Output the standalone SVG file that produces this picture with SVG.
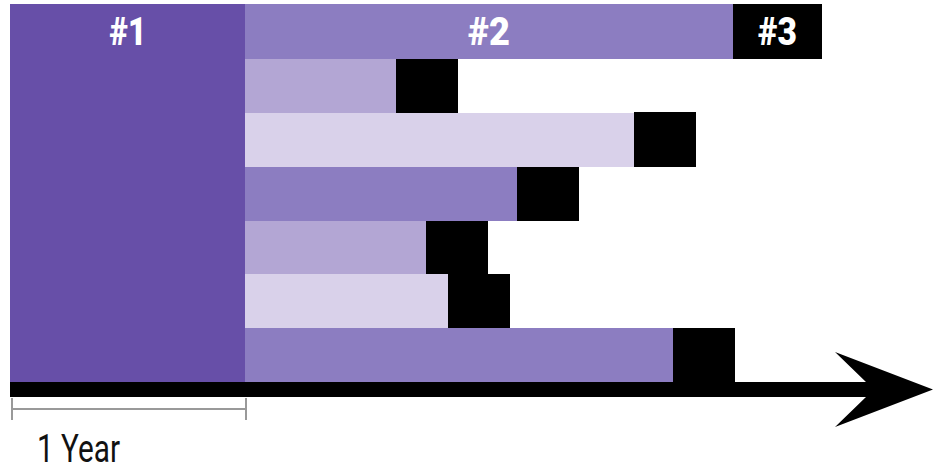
<svg xmlns="http://www.w3.org/2000/svg" width="933" height="472" viewBox="0 0 933 472">
<style>
.p1{fill:#674fa8}
.p2{fill:#8c7dc1}
.p3{fill:#b3a6d4}
.p4{fill:#d9d1ea}
.blk{fill:#000}
.lbl{font-family:Roboto,"Liberation Sans",sans-serif;font-weight:900;font-size:38px;fill:#fff;text-anchor:middle}
.cap{font-family:Roboto,"Liberation Sans",sans-serif;font-weight:400;font-size:38px;fill:#111}
.scale{stroke:#999;stroke-width:2;fill:none}
</style>
<rect width="933" height="472" fill="#fff"/>
<g id="phase1">
<rect class="p1" x="10" y="4" width="235" height="379"/>
<text class="lbl" x="128" y="45" textLength="37" lengthAdjust="spacingAndGlyphs">#1</text>
</g>
<g id="phase2">
<rect class="p2" x="245" y="4" width="488" height="55"/>
<text class="lbl" x="489" y="45" textLength="42" lengthAdjust="spacingAndGlyphs">#2</text>
</g>
<g id="phase3">
<rect class="blk" x="733" y="4" width="89" height="55"/>
<text class="lbl" x="777.5" y="45" textLength="39" lengthAdjust="spacingAndGlyphs">#3</text>
</g>
<g id="row1">
<rect class="p3" x="245" y="59" width="151" height="54"/>
<rect class="blk" x="396" y="59" width="62" height="54"/>
</g>
<g id="row2">
<rect class="p4" x="245" y="113" width="389" height="54"/>
<rect class="blk" x="634" y="112" width="62" height="55"/>
</g>
<g id="row3">
<rect class="p2" x="245" y="167" width="272" height="54"/>
<rect class="blk" x="517" y="167" width="62" height="54"/>
</g>
<g id="row4">
<rect class="p3" x="245" y="221" width="181" height="53"/>
<rect class="blk" x="426" y="221" width="62" height="53"/>
</g>
<g id="row5">
<rect class="p4" x="245" y="274" width="203" height="54"/>
<rect class="blk" x="448" y="274" width="62" height="54"/>
</g>
<g id="row6">
<rect class="p2" x="245" y="328" width="428" height="54"/>
<rect class="blk" x="673" y="328" width="62" height="54"/>
</g>
<g id="connectors">
<rect class="blk" x="10" y="382" width="857" height="15"/>
<polygon class="blk" points="835,352 933,389.5 835,427 866,397 866,382"/>
</g>
<g id="scale">
<path class="scale" d="M12,409 H246 M12,398 V420 M246,398 V420"/>
<text class="cap" x="37" y="462" textLength="83" lengthAdjust="spacingAndGlyphs">1 Year</text>
</g>
</svg>
